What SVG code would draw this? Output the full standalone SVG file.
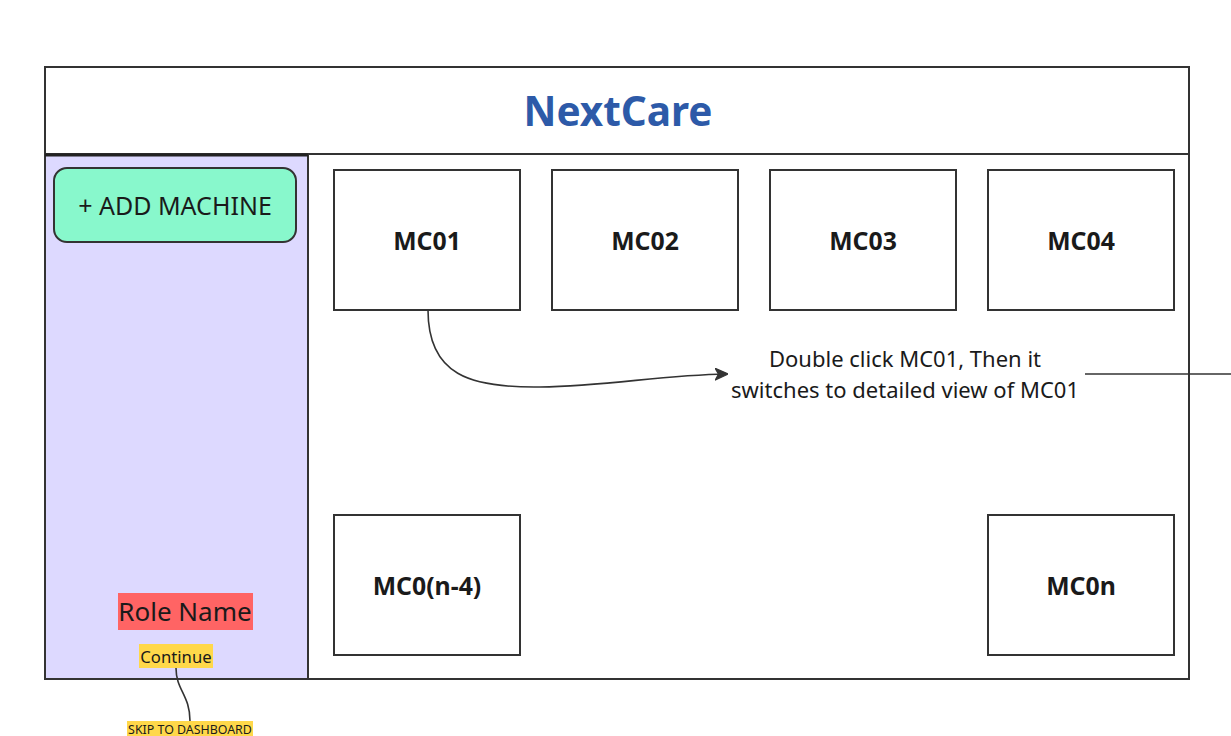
<svg xmlns="http://www.w3.org/2000/svg" width="1231" height="736" viewBox="0 0 1231 736">
<defs>
<style>
.frame{fill:#ffffff;stroke:#333333;stroke-width:2}
.mc{fill:#ffffff;stroke:#333333;stroke-width:2}
.mct{font-family:"Noto Sans","Open Sans",sans-serif;font-weight:bold;font-size:24.8px;fill:#1a1a1a;text-anchor:middle}
.note{font-family:"Noto Sans","Open Sans",sans-serif;font-size:22px;fill:#1a1a1a;text-anchor:middle}
.conn{fill:none;stroke:#333333;stroke-width:1.6}
</style>
<marker id="arr" viewBox="0 0 10 10" refX="9" refY="5" markerWidth="13" markerHeight="13" orient="auto" markerUnits="userSpaceOnUse">
<path d="M0,0.5 L10,5 L0,9.5 L2.5,5 Z" fill="#333333" stroke="#333333" stroke-width="1" stroke-linejoin="round"/>
</marker>
</defs>
<rect width="1231" height="736" fill="#ffffff"/>
<g id="header">
<rect class="frame" x="45" y="67" width="1144" height="87"/>
<text x="618" y="126" font-family="'Noto Sans','Open Sans',sans-serif" font-weight="bold" font-size="40.5" fill="#2d5aa8" text-anchor="middle">NextCare</text>
</g>
<g id="main">
<rect class="frame" x="308" y="154" width="881" height="525"/>
</g>
<g id="sidebar">
<rect x="45" y="154" width="263" height="525" fill="#ddd9ff" stroke="#333333" stroke-width="2"/>
<line x1="45" y1="155" x2="308" y2="155" stroke="#222222" stroke-width="3"/>
</g>
<g id="add-machine">
<rect x="54" y="168" width="242" height="74" rx="13" fill="#88f8cc" stroke="#333333" stroke-width="2"/>
<text x="175" y="215" font-family="'Noto Sans','Open Sans',sans-serif" font-size="25" fill="#1a1a1a" text-anchor="middle">+ ADD MACHINE</text>
</g>
<g id="mc01"><rect class="mc" x="334" y="170" width="186" height="140"/><text class="mct" x="427" y="250">MC01</text></g>
<g id="mc02"><rect class="mc" x="552" y="170" width="186" height="140"/><text class="mct" x="645" y="250">MC02</text></g>
<g id="mc03"><rect class="mc" x="770" y="170" width="186" height="140"/><text class="mct" x="863" y="250">MC03</text></g>
<g id="mc04"><rect class="mc" x="988" y="170" width="186" height="140"/><text class="mct" x="1081" y="250">MC04</text></g>
<g id="mc0n4"><rect class="mc" x="334" y="515" width="186" height="140"/><text class="mct" x="427" y="595">MC0(n-4)</text></g>
<g id="mc0n"><rect class="mc" x="988" y="515" width="186" height="140"/><text class="mct" x="1081" y="595">MC0n</text></g>
<g id="note">
<text class="note" x="905" y="367">Double click MC01, Then it</text>
<text class="note" x="905" y="398">switches to detailed view of MC01</text>
</g>
<g id="role-name">
<rect x="118" y="593" width="135" height="37" fill="#ff6464"/>
<text x="185" y="621" font-family="'Noto Sans','Open Sans',sans-serif" font-size="26" fill="#1a1a1a" text-anchor="middle">Role Name</text>
</g>
<g id="continue">
<rect x="139" y="644" width="74" height="24" fill="#ffd84a"/>
<text x="176" y="663" font-family="'Noto Sans','Open Sans',sans-serif" font-size="16.7" fill="#1a1a1a" text-anchor="middle">Continue</text>
</g>
<g id="skip">
<rect x="127" y="721" width="126" height="15" fill="#ffd84a"/>
<text x="190" y="734" font-family="'Noto Sans','Open Sans',sans-serif" font-size="12.4" fill="#1a1a1a" text-anchor="middle">SKIP TO DASHBOARD</text>
</g>
<g id="connectors">
<path class="conn" d="M428,310 C428,375 470,388 540,387 C610,386 660,375 727,374" marker-end="url(#arr)"/>
<line class="conn" x1="1085" y1="374" x2="1231" y2="374"/>
<path class="conn" d="M176,668 C176,690 190,695 190,721"/>
</g>
</svg>
